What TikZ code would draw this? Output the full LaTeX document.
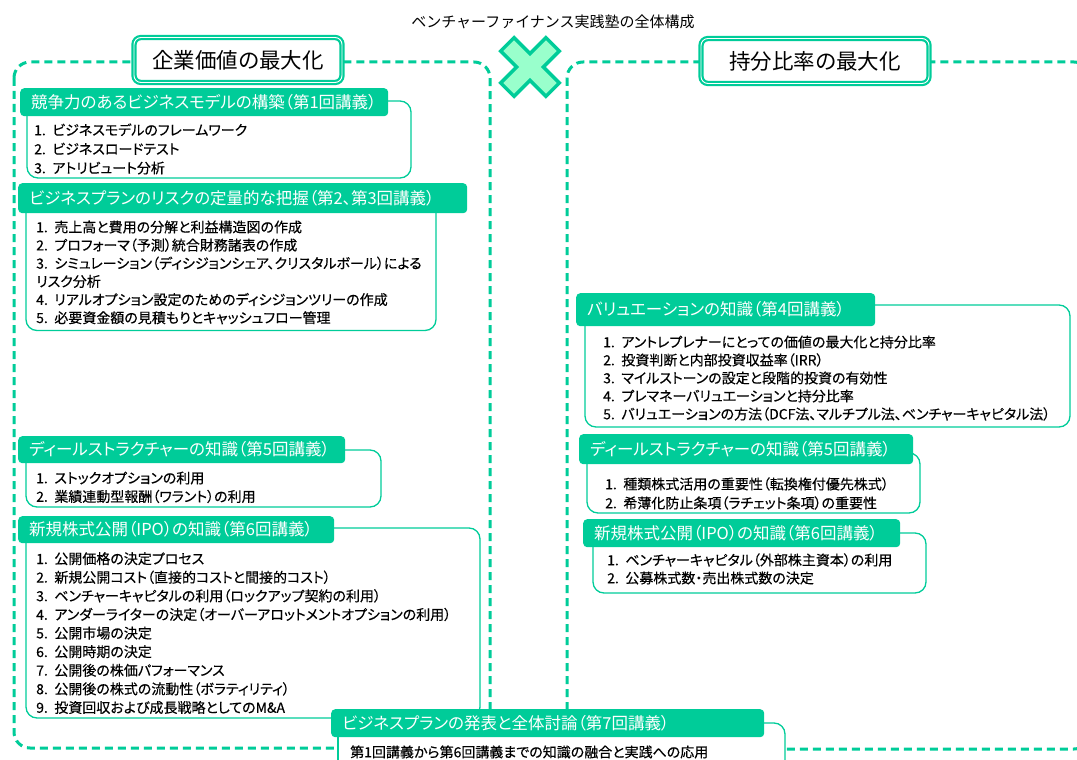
\documentclass[tikz,border=0pt]{standalone}
\usepackage{fontspec}
\setmainfont[RawFeature=+palt]{Noto Sans CJK JP}
\newfontfamily\fwfont{Noto Sans CJK JP}
\newfontfamily\bodyfont[RawFeature=+palt, FakeBold=0.35]{Noto Sans CJK JP}
\definecolor{grn}{RGB}{0,204,153}
\definecolor{mint}{RGB}{153,255,204}
\tikzset{
  dashbox/.style={draw=grn, line width=3pt, dash pattern=on 8pt off 5pt, rounded corners=16pt},
  bighead/.style={draw=grn, line width=2.2pt, double=white, double distance=0.9pt, fill=white, rounded corners=7pt, font=\fontsize{21.5}{24}\selectfont, inner sep=0pt, text=black},
  subhead/.style={fill=grn, rounded corners=4pt, text=white, font=\fontsize{16.5}{18}\selectfont, anchor=north west, inner xsep=11pt, inner ysep=0pt, align=left},
  bodyline/.style={draw=grn, line width=1.3pt, rounded corners=11pt},
  itemtext/.style={font=\bodyfont\fontsize{14}{16}\selectfont, anchor=base west, inner sep=0pt, text=black},
  xmark/.style={fill=mint, draw=grn, line width=3.5pt, line join=miter},
  titletext/.style={font=\fwfont\fontsize{15}{18}\selectfont, inner sep=0pt, text=black},
}
\newcommand\itm[1]{#1.\hspace{6.5pt}}
\newcommand\itemlist[5]{\foreach \txt [count=\i from 0] in {#5} {\node[itemtext] (#1-\i) at (#2,{#3+6.3+\i*#4}) {\txt};}}
\begin{document}
\begin{tikzpicture}[x=1pt,y=-1pt]
\useasboundingbox (0,0) rectangle (1077,760);
\clip (0,0) rectangle (1077,760);
% dashed outer groups
\draw[dashbox] (14,62) rectangle (490,748);
\draw[dashbox] (567,62) rectangle (1090,749);
% big headers
\node[bighead, minimum width=208pt, minimum height=45pt] (hL) at (238,60) {企業価値の最大化};
\node[bighead, minimum width=228pt, minimum height=45pt] (hR) at (815,61) {持分比率の最大化};
% cross mark
\draw[xmark, shift={(530,67)}, rotate=45] (9.5,9.5) -- (32,9.5) -- (32,-9.5) -- (9.5,-9.5) -- (9.5,-32) -- (-9.5,-32) -- (-9.5,-9.5) -- (-32,-9.5) -- (-32,9.5) -- (-9.5,9.5) -- (-9.5,32) -- (9.5,32) -- cycle;
% title
\node[titletext] (title) at (553,22) {ベンチャーファイナンス実践塾の全体構成};
% L1
\draw[bodyline] (360,101) -- (411,101) -- (411,178) -- (27,178) -- (27,110);
\node[subhead, text width=346pt, minimum height=28pt] (L1h) at (20,88) {競争力のあるビジネスモデルの構築（第1回講義）};
\itemlist{L1}{34}{129}{19}{{\itm{1}ビジネスモデルのフレームワーク},{\itm{2}ビジネスロードテスト},{\itm{3}アトリビュート分析}}
% L2
\draw[bodyline] (26,205) -- (26,330.5) -- (436,330.5) -- (436,200);
\node[subhead, text width=427pt, minimum height=30pt] (L2h) at (18,183) {ビジネスプランのリスクの定量的な把握（第2、第3回講義）};
\itemlist{L2}{36}{226}{18.15}{{\itm{1}売上高と費用の分解と利益構造図の作成},{\itm{2}プロフォーマ（予測）統合財務諸表の作成},{\itm{3}シミュレーション（ディシジョンシェア、クリスタルボール）による},{リスク分析},{\itm{4}リアルオプション設定のためのディシジョンツリーの作成},{\itm{5}必要資金額の見積もりとキャッシュフロー管理}}
% L3
\draw[bodyline] (320,450) -- (381,450) -- (381,507) -- (26,507) -- (26,458);
\node[subhead, text width=305pt, minimum height=27pt] (L3h) at (18,436) {ディールストラクチャーの知識（第5回講義）};
\itemlist{L3}{36}{477}{18.5}{{\itm{1}ストックオプションの利用},{\itm{2}業績連動型報酬（ワラント）の利用}}
% L4
\draw[bodyline] (310,528) -- (480,528) -- (480,718) -- (26,718) -- (26,537);
\node[subhead, text width=294pt, minimum height=27pt] (L4h) at (18,516) {新規株式公開（IPO）の知識（第6回講義）};
\itemlist{L4}{36}{557.7}{18.6}{{\itm{1}公開価格の決定プロセス},{\itm{2}新規公開コスト（直接的コストと間接的コスト）},{\itm{3}ベンチャーキャピタルの利用（ロックアップ契約の利用）},{\itm{4}アンダーライターの決定（オーバーアロットメントオプションの利用）},{\itm{5}公開市場の決定},{\itm{6}公開時期の決定},{\itm{7}公開後の株価パフォーマンス},{\itm{8}公開後の株式の流動性（ボラティリティ）},{\itm{9}投資回収および成長戦略としてのM\&A}}
% R1
\draw[bodyline] (850,305) -- (1070,305) -- (1070,427) -- (585,427) -- (585,318);
\node[subhead, text width=277pt, minimum height=33pt] (R1h) at (576,293) {バリュエーションの知識（第4回講義）};
\itemlist{R1}{603}{341}{18}{{\itm{1}アントレプレナーにとっての価値の最大化と持分比率},{\itm{2}投資判断と内部投資収益率（IRR）},{\itm{3}マイルストーンの設定と段階的投資の有効性},{\itm{4}プレマネーバリュエーションと持分比率},{\itm{5}バリュエーションの方法（DCF法、マルチプル法、ベンチャーキャピタル法）}}
% R2
\draw[bodyline] (880,453) -- (920,453) -- (920,513) -- (587,513) -- (587,456);
\node[subhead, text width=312pt, minimum height=30pt] (R2h) at (579,434) {ディールストラクチャーの知識（第5回講義）};
\itemlist{R2}{605}{483}{19}{{\itm{1}種類株式活用の重要性（転換権付優先株式）},{\itm{2}希薄化防止条項（ラチェット条項）の重要性}}
% R3
\draw[bodyline] (870,533) -- (926,533) -- (926,593) -- (593,593) -- (593,540);
\node[subhead, text width=295pt, minimum height=28pt] (R3h) at (583,519) {新規株式公開（IPO）の知識（第6回講義）};
\itemlist{R3}{607}{559}{18}{{\itm{1}ベンチャーキャピタル（外部株主資本）の利用},{\itm{2}公募株式数・売出株式数の決定}}
% B
\fill[white, rounded corners=11pt] (338,723) rectangle (785,790);
\draw[bodyline] (740,723) -- (785,723) -- (785,790);
\draw[bodyline] (338,730) -- (338,790);
\node[subhead, text width=411pt, minimum height=28pt] (Bh) at (331,709) {ビジネスプランの発表と全体討論（第7回講義）};
\node[itemtext] (Bi) at (350,757.3) {第1回講義から第6回講義までの知識の融合と実践への応用};
\end{tikzpicture}
\end{document}
